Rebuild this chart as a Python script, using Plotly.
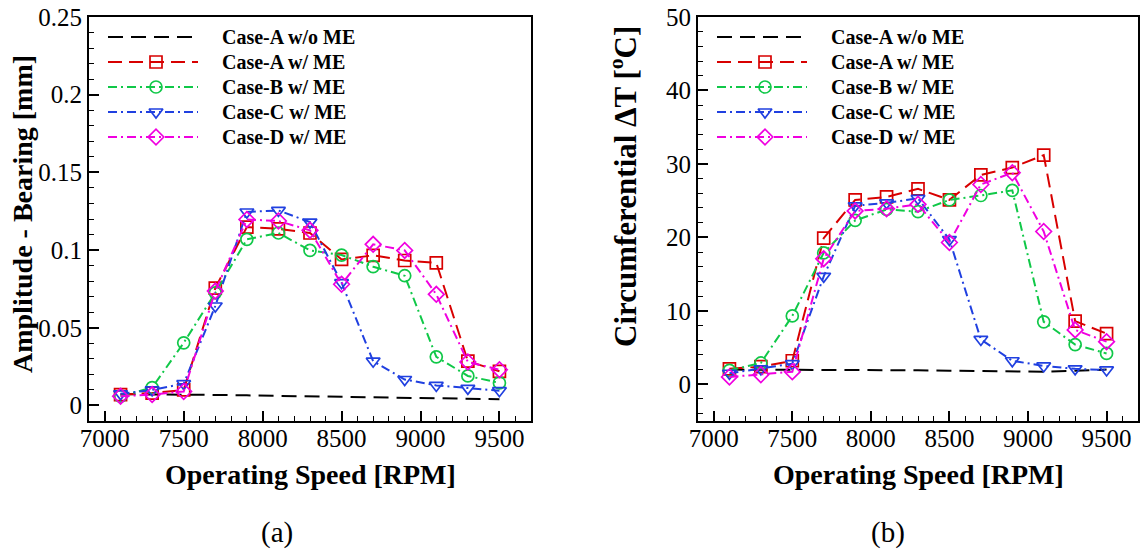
import plotly.graph_objects as go

# Operating speeds [RPM]
speed = [7100, 7300, 7500, 7700, 7900, 8100, 8300, 8500, 8700, 8900, 9100, 9300, 9500]

# (a) Bearing vibration amplitude [mm]
amp_a_wo = [0.0072, 0.0072, 0.0071, 0.0068, 0.0065, 0.0062, 0.0059, 0.0056, 0.0052, 0.0049, 0.0046, 0.0043, 0.0040]
amp_a_w = [0.0070, 0.0080, 0.0100, 0.0755, 0.1148, 0.1137, 0.1110, 0.0940, 0.0966, 0.0933, 0.0918, 0.0285, 0.0220]
amp_b_w = [0.0060, 0.0115, 0.0403, 0.0725, 0.1069, 0.1110, 0.0998, 0.0968, 0.0893, 0.0835, 0.0313, 0.0190, 0.0145]
amp_c_w = [0.0075, 0.0100, 0.0140, 0.0640, 0.1245, 0.1255, 0.1180, 0.0790, 0.0285, 0.0167, 0.0129, 0.0110, 0.0095]
amp_d_w = [0.0060, 0.0070, 0.0090, 0.0736, 0.1197, 0.1187, 0.1127, 0.0780, 0.1037, 0.0998, 0.0715, 0.0280, 0.0230]

# (b) Circumferential temperature difference [degC]
dt_a_wo = [2.0, 2.0, 2.0, 2.0, 2.0, 1.95, 1.9, 1.85, 1.8, 1.7, 1.7, 1.85, 2.0]
dt_a_w = [2.1, 2.4, 3.2, 19.9, 25.1, 25.5, 26.6, 25.1, 28.5, 29.5, 31.2, 8.6, 6.9]
dt_b_w = [1.9, 2.9, 9.3, 17.9, 22.3, 23.8, 23.5, 25.1, 25.7, 26.4, 8.5, 5.4, 4.2]
dt_c_w = [1.5, 2.1, 2.8, 14.7, 24.3, 24.7, 25.3, 19.7, 6.1, 3.2, 2.5, 2.1, 1.95]
dt_d_w = [1.0, 1.3, 1.7, 17.1, 23.6, 23.9, 24.5, 19.3, 27.2, 28.8, 20.8, 7.4, 5.8]

names = ["Case-A w/o ME", "Case-A w/ ME", "Case-B w/ ME", "Case-C w/ ME", "Case-D w/ ME"]
colors = ["#000000", "#d80000", "#10c848", "#2040e0", "#f000e0"]
dashes = ["15px,8px", "14px,7px", "9px,4px,2px,4px", "9px,4px,2px,4px", "9px,4px,2px,4px"]
symbols = [None, "square-open", "circle-open", "triangle-down-open", "diamond-open"]

W, H = 1141, 551
SERIF = "Liberation Serif, Times New Roman, serif"

# panel boxes in pixels (left, right, top, bottom)
panels = [(89, 531, 17, 421), (698, 1138, 17, 421)]


def px_dom(l, r, t, b):
    return [l / W, r / W], [1 - b / H, 1 - t / H]


fig = go.Figure()

series_sets = [
    [amp_a_wo, amp_a_w, amp_b_w, amp_c_w, amp_d_w],
    [dt_a_wo, dt_a_w, dt_b_w, dt_c_w, dt_d_w],
]

for p, sets in enumerate(series_sets):
    xa = "x" if p == 0 else "x2"
    ya = "y" if p == 0 else "y2"
    for i, vals in enumerate(sets):
        mode = "lines" if symbols[i] is None else "lines+markers"
        fig.add_trace(go.Scatter(
            x=speed, y=vals, mode=mode, name=names[i], showlegend=False,
            xaxis=xa, yaxis=ya,
            line=dict(color=colors[i], width=2, dash=dashes[i]),
            marker=dict(symbol=symbols[i] or "circle", size=12, color=colors[i],
                        line=dict(color=colors[i], width=1.7)),
            cliponaxis=False,
        ))

# legend block drawn inside each panel on a pixel-offset overlay
leg_rows = [20, 45, 70, 95, 120]
for p, (l, r, t, b) in enumerate(panels):
    xa = "x3" if p == 0 else "x4"
    ya = "y3" if p == 0 else "y4"
    for i in range(5):
        fig.add_trace(go.Scatter(
            x=[19, 109], y=[leg_rows[i]] * 2, mode="lines", showlegend=False,
            xaxis=xa, yaxis=ya, hoverinfo="skip",
            line=dict(color=colors[i], width=2, dash=dashes[i]),
        ))
        if symbols[i] is not None:
            fig.add_trace(go.Scatter(
                x=[67], y=[leg_rows[i]], mode="markers", showlegend=False,
                xaxis=xa, yaxis=ya, hoverinfo="skip",
                marker=dict(symbol=symbols[i], size=12, color=colors[i],
                            line=dict(color=colors[i], width=1.7)),
            ))
        fig.add_annotation(
            x=131, y=leg_rows[i], xref=xa, yref=ya, text="<b>%s</b>" % names[i],
            showarrow=False, xanchor="left", yanchor="middle",
            font=dict(family=SERIF, size=20, color="black"),
        )

axis_common = dict(
    showgrid=False, zeroline=False, showline=True, linecolor="black", linewidth=2,
    mirror=True, ticks="inside", ticklen=10, tickwidth=2, tickcolor="black",
    tickfont=dict(family=SERIF, size=25, color="black"), automargin=False,
)
minor_common = dict(ticks="inside", ticklen=5, tickwidth=1, tickcolor="black", showgrid=False)

xd1, yd1 = px_dom(*panels[0])
xd2, yd2 = px_dom(*panels[1])

hidden = dict(visible=False, fixedrange=True, automargin=False, showgrid=False, zeroline=False)

fig.update_layout(
    width=W, height=H, margin=dict(l=0, r=0, t=0, b=0, autoexpand=False),
    paper_bgcolor="white", plot_bgcolor="rgba(0,0,0,0)",
    xaxis=dict(domain=xd1, anchor="y", range=[6900, 9700], dtick=500, tick0=7000,
               ticklabelstandoff=-6,
               minor=dict(dtick=100, **minor_common), **axis_common),
    yaxis=dict(domain=yd1, anchor="x", range=[-0.01, 0.25], dtick=0.05, tick0=0,
               minor=dict(dtick=0.01, **minor_common), **axis_common),
    xaxis2=dict(domain=xd2, anchor="y2", range=[6900, 9700], dtick=500, tick0=7000,
                ticklabelstandoff=-6,
                minor=dict(dtick=100, **minor_common), **axis_common),
    yaxis2=dict(domain=yd2, anchor="x2", range=[-5, 50], dtick=10, tick0=0,
                minor=dict(dtick=2, **minor_common), **axis_common),
    xaxis3=dict(domain=xd1, anchor="y3", range=[0, panels[0][1] - panels[0][0]], **hidden),
    yaxis3=dict(domain=yd1, anchor="x3", range=[panels[0][3] - panels[0][2], 0], **hidden),
    xaxis4=dict(domain=xd2, anchor="y4", range=[0, panels[1][1] - panels[1][0]], **hidden),
    yaxis4=dict(domain=yd2, anchor="x4", range=[panels[1][3] - panels[1][2], 0], **hidden),
)

# axis titles and panel captions
def paper_ann(x, y, text, size, angle=0, bold=True):
    fig.add_annotation(
        x=x / W, y=1 - y / H, xref="paper", yref="paper", showarrow=False,
        text=("<b>%s</b>" % text) if bold else text, textangle=angle,
        xanchor="center", yanchor="middle",
        font=dict(family=SERIF, size=size, color="black"),
    )

paper_ann(310, 475, "Operating Speed [RPM]", 28)
paper_ann(918, 475, "Operating Speed [RPM]", 28)
paper_ann(22, 214, "Amplitude - Bearing [mm]", 28, angle=-90)
paper_ann(623, 187, "Circumferential ΔT [<sup>o</sup>C]", 31, angle=-90)
paper_ann(277, 532, "(a)", 29, bold=False)
paper_ann(888, 532, "(b)", 29, bold=False)

fig.write_html("out.html")
